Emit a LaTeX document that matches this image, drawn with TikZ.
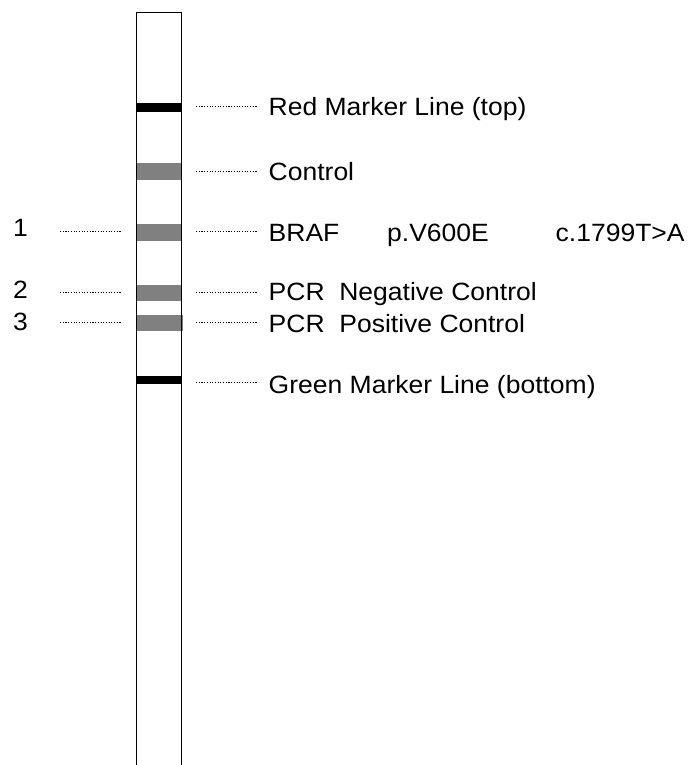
\documentclass[tikz,border=0pt]{standalone}
\usepackage{fontspec}
\setmainfont{Liberation Sans}
\begin{document}
\begin{tikzpicture}[x=1pt,y=-1pt,
  band/.style={rectangle, draw=none, inner sep=0, minimum width=45pt},
  graybar/.style={band, fill=gray},
  blackbar/.style={band, fill=black},
  dotline/.style={line width=1pt, dash pattern=on 1.1pt off 1.6pt},
  lab/.style={anchor=base west, inner sep=0, font=\fontsize{25}{30}\selectfont, xscale=1.06},
  stripline/.style={line width=1.4pt}]
\useasboundingbox (0,0) rectangle (691,765);
% bands
\node[blackbar, minimum height=8.4pt] (red) at (159.2,107.5) {};
\node[graybar, minimum height=16.7pt] (ctl) at (159.2,171.7) {};
\node[graybar, minimum height=16.7pt] (braf) at (159.2,232.3) {};
\node[graybar, minimum height=16pt] (neg) at (159.2,293) {};
\node[graybar, minimum height=15.7pt, minimum width=47pt] (pos) at (159.2,322.8) {};
\node[blackbar, minimum height=8.4pt] (green) at (159.2,379.8) {};
% strip
\coordinate (tl) at (136.7,12.5);
\coordinate (tr) at (181.7,12.5);
\coordinate (bl) at (136.7,766);
\coordinate (br) at (181.7,766);
\draw[stripline] (bl) -- (tl) -- (tr) -- (br);
% right dotted connectors
\coordinate (r1a) at (196,107); \coordinate (r1b) at (258,107);
\coordinate (r2a) at (196,171); \coordinate (r2b) at (258,171);
\coordinate (r3a) at (196,231.7); \coordinate (r3b) at (258,231.7);
\coordinate (r4a) at (196,292.3); \coordinate (r4b) at (258,292.3);
\coordinate (r5a) at (196,322.3); \coordinate (r5b) at (258,322.3);
\coordinate (r6a) at (196,382); \coordinate (r6b) at (258,382);
\draw[dotline] (r1a) -- (r1b);
\draw[dotline] (r2a) -- (r2b);
\draw[dotline] (r3a) -- (r3b);
\draw[dotline] (r4a) -- (r4b);
\draw[dotline] (r5a) -- (r5b);
\draw[dotline] (r6a) -- (r6b);
% left dotted connectors
\coordinate (l1a) at (60,231.7); \coordinate (l1b) at (122,231.7);
\coordinate (l2a) at (60,292.3); \coordinate (l2b) at (122,292.3);
\coordinate (l3a) at (60,322.3); \coordinate (l3b) at (122,322.3);
\draw[dotline] (l1a) -- (l1b);
\draw[dotline] (l2a) -- (l2b);
\draw[dotline] (l3a) -- (l3b);
% labels
\node[lab] (tred) at (268.5,115.5) {Red Marker Line (top)};
\node[lab] (tctl) at (268.5,180) {Control};
\node[lab] (tbraf) at (268.5,241) {BRAF};
\node[lab] (tpv) at (387,241) {p.V600E};
\node[lab] (tcv) at (555.5,241) {c.1799T>A};
\node[lab] (tneg) at (268.5,300.5) {PCR\ \ Negative Control};
\node[lab] (tpos) at (268.5,332) {PCR\ \ Positive Control};
\node[lab] (tgreen) at (268.5,393) {Green Marker Line (bottom)};
\node[lab] (n1) at (13,236) {1};
\node[lab] (n2) at (13,298) {2};
\node[lab] (n3) at (13,330) {3};
\end{tikzpicture}
\end{document}
